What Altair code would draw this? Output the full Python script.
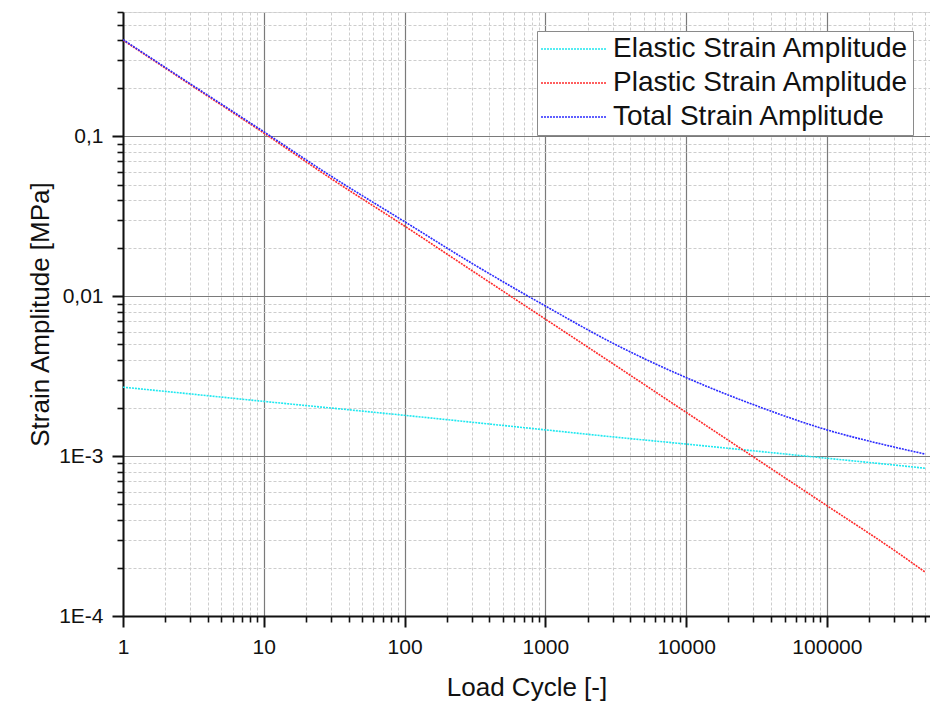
import altair as alt
import pandas as pd

# ---- data ----
cycles = [1, 3, 10, 30, 100, 300, 1000, 3000, 10000, 30000, 100000, 300000, 500000]
elastic = [0.0027, 0.00245, 0.0022, 0.002, 0.0018, 0.00163, 0.00146, 0.00132,
           0.00119, 0.00108, 0.00097, 0.00088, 0.00084]
plastic = [0.4, 0.211, 0.105, 0.0545, 0.0275, 0.0145, 0.0072, 0.0038,
           0.00188, 0.00099, 0.00049, 0.000258, 0.000188]
total = [0.403, 0.2135, 0.107, 0.0565, 0.0293, 0.0161, 0.0087, 0.0051,
         0.0031, 0.0021, 0.00146, 0.00114, 0.00103]

series_names = ["Elastic Strain Amplitude", "Plastic Strain Amplitude", "Total Strain Amplitude"]
series_colors = ["#1ee8f0", "#ff2a2a", "#2a2aff"]

x_major = [1, 10, 100, 1000, 10000, 100000]
x_major_labels = ["1", "10", "100", "1000", "10000", "100000"]
x_minor = [2, 3, 4, 5, 6, 7, 8, 9,
           20, 30, 40, 50, 60, 70, 80, 90,
           200, 300, 400, 500, 600, 700, 800, 900,
           2000, 3000, 4000, 5000, 6000, 7000, 8000, 9000,
           20000, 30000, 40000, 50000, 60000, 70000, 80000, 90000,
           200000, 300000, 400000, 500000]
y_major = [0.0001, 0.001, 0.01, 0.1]
y_major_labels = ["1E-4", "1E-3", "0,01", "0,1"]
y_minor = [0.0002, 0.0003, 0.0004, 0.0005, 0.0006, 0.0007, 0.0008, 0.0009,
           0.002, 0.003, 0.004, 0.005, 0.006, 0.007, 0.008, 0.009,
           0.02, 0.03, 0.04, 0.05, 0.06, 0.07, 0.08, 0.09,
           0.2, 0.3, 0.4, 0.5, 0.6]

x_domain = [1, 540000]
y_domain = [0.0001, 0.6]

# ---- table ----
rows = []
for name, vals in zip(series_names, [elastic, plastic, total]):
    for c, v in zip(cycles, vals):
        rows.append({"cycle": c, "amp": v, "series": name})
df = pd.DataFrame(rows)

FONT = "Liberation Sans"


def label_expr(values, labels):
    expr = "''"
    for v, l in zip(reversed(values), reversed(labels)):
        expr = f"datum.value == {v!r} ? '{l}' : ({expr})"
    return expr


def major_test(values):
    return "indexof([" + ",".join(repr(v) for v in values) + "], datum.value) >= 0"


def make_axis(major, labels, minor, title, **kw):
    test = major_test(major)
    return alt.Axis(
        title=title,
        values=sorted(major + minor),
        labelExpr=label_expr(major, labels),
        grid=True,
        gridColor={"condition": {"test": test, "value": "#7a7a7a"}, "value": "#cdcdcd"},
        gridDash={"condition": {"test": test, "value": []}, "value": [3, 2]},
        gridWidth={"condition": {"test": test, "value": 1.2}, "value": 1},
        tickSize={"condition": {"test": test, "value": 11}, "value": 6},
        tickWidth={"condition": {"test": test, "value": 2}, "value": 1.6},
        tickColor="#111111",
        domainColor="#111111",
        domainWidth=2,
        labelFont=FONT,
        labelFontSize=21,
        labelColor="#111111",
        labelFlush=False,
        labelOverlap=False,
        titleFont=FONT,
        titleFontSize=26,
        titleFontWeight="normal",
        titleColor="#111111",
        **kw,
    )


chart = (
    alt.Chart(df)
    .mark_line(strokeWidth=1.6, strokeDash=[2, 1], interpolate="monotone", clip=True)
    .encode(
        x=alt.X("cycle:Q",
                scale=alt.Scale(type="log", domain=x_domain, nice=False),
                axis=make_axis(x_major, x_major_labels, x_minor, "Load Cycle [-]",
                               labelPadding=9, titlePadding=17)),
        y=alt.Y("amp:Q",
                scale=alt.Scale(type="log", domain=y_domain, nice=False),
                axis=make_axis(y_major, y_major_labels, y_minor, "Strain Amplitude [MPa]",
                               labelPadding=9, titlePadding=5)),
        color=alt.Color("series:N",
                        scale=alt.Scale(domain=series_names, range=series_colors),
                        legend=alt.Legend(
                            title=None, orient="none", legendX=414, legendY=19,
                            fillColor="white", strokeColor="#8a8a8a", padding=4,
                            labelFont=FONT, labelFontSize=28, labelColor="#111111",
                            labelLimit=500, labelOffset=25, symbolOffset=19,
                            symbolType="M-3,0H3", symbolSize=484, symbolStrokeWidth=1.6,
                            symbolDash=[2, 1], rowPadding=6,
                        )),
        order=alt.Order("cycle:Q"),
    )
    .properties(width=807, height=604,
                padding={"left": 123, "top": 12, "right": 0, "bottom": 93},
                autosize=alt.AutoSizeParams(type="none"))
    .configure_view(stroke=None)
    .configure(background="white")
)

chart.save("out.html", embed_options={"renderer": "svg", "actions": False})
